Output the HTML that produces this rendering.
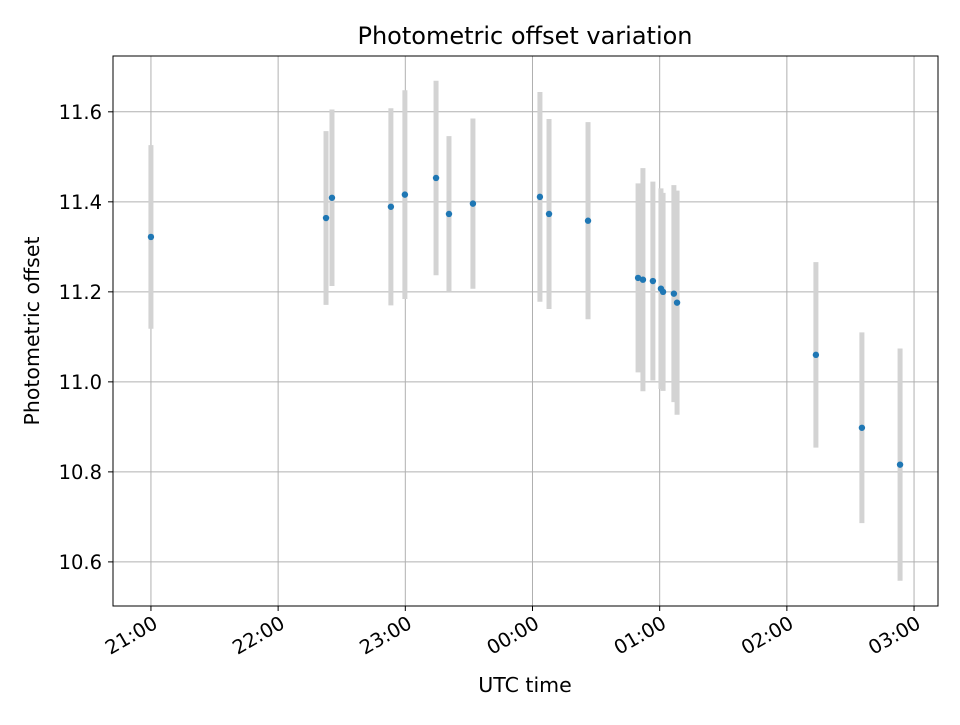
<!DOCTYPE html>
<html><head><meta charset="utf-8"><style>
html,body{margin:0;padding:0;background:#fff;}
svg text{font-family:"DejaVu Sans","Liberation Sans",sans-serif;fill:#000;}
</style></head><body>
<svg id="chart" width="960" height="720" xmlns="http://www.w3.org/2000/svg">
<rect width="960" height="720" fill="#fff"/>
<g id="grid"></g>
<g id="bars"></g>
<g id="pts"></g>
<rect x="113" y="56" width="825" height="550" fill="none" stroke="#000" stroke-width="1"/>
<g id="ticks"></g>
<text x="525" y="44" font-size="24" text-anchor="middle">Photometric offset variation</text>
<text x="525" y="692" font-size="20.5" text-anchor="middle">UTC time</text>
<text transform="translate(39,331) rotate(-90)" font-size="20.5" text-anchor="middle">Photometric offset</text>
</svg>
<script>
// minutes after 21:00 UTC
const times=[0,82.6,85.4,113.2,119.8,134.5,140.6,151.9,183.5,187.8,206.2,229.8,232.1,236.8,240.6,241.6,246.7,248.2,313.7,335.4,353.4];
const offsets=[11.322,11.364,11.409,11.389,11.416,11.453,11.373,11.396,11.411,11.373,11.358,11.231,11.227,11.224,11.207,11.2,11.196,11.176,11.06,10.898,10.816];
const errors=[0.204,0.193,0.196,0.219,0.232,0.216,0.173,0.189,0.233,0.211,0.219,0.21,0.248,0.221,0.223,0.22,0.241,0.249,0.206,0.212,0.258];
const xTickLabels=["21:00","22:00","23:00","00:00","01:00","02:00","03:00"];
const xTickMinutes=[0,60,120,180,240,300,360];
const yTicks=[10.6,10.8,11.0,11.2,11.4,11.6];

const NS="http://www.w3.org/2000/svg";
const L=113,R=938,T=56,B=606;
const xMin=-17.9,xMax=371.3,yMin=10.502,yMax=11.724;
const X=m=>L+(m-xMin)/(xMax-xMin)*(R-L);
const Y=v=>B-(v-yMin)/(yMax-yMin)*(B-T);
function mk(tag,attrs,parent){const e=document.createElementNS(NS,tag);for(const k in attrs)e.setAttribute(k,attrs[k]);parent.appendChild(e);return e;}
const grid=document.getElementById('grid'),ticks=document.getElementById('ticks'),bars=document.getElementById('bars'),pts=document.getElementById('pts');
xTickMinutes.forEach((m,i)=>{
  const x=X(m);
  const g=mk('line',{x1:x,x2:x,y1:T,y2:B,stroke:'#b0b0b0','stroke-width':1},grid);
  
  
  const t=mk('line',{x1:x,x2:x,y1:B,y2:B+5,stroke:'#000'},ticks);
  
  
  const lb=mk('text',{x:0,y:0,'font-size':19.5,'text-anchor':'end',transform:`translate(${x+8},${B+21}) rotate(-30)`},ticks);
  lb.textContent=xTickLabels[i];
  
  
});
yTicks.forEach(v=>{
  const y=Y(v);
  const g=mk('line',{x1:L,x2:R,y1:y,y2:y,stroke:'#b0b0b0','stroke-width':1},grid);
  
  
  const t=mk('line',{x1:L-5,x2:L,y1:y,y2:y,stroke:'#000'},ticks);
  
  
  const lb=mk('text',{x:L-11,y:y+7,'font-size':19.5,'text-anchor':'end'},ticks);
  lb.textContent=v.toFixed(1);
  
  
});
times.forEach((m,i)=>{
  const x=X(m);
  const b=mk('line',{x1:x,x2:x,y1:Y(offsets[i]+errors[i]),y2:Y(offsets[i]-errors[i]),stroke:'#d3d3d3','stroke-width':5},bars);
  
  
});
times.forEach((m,i)=>{
  const c=mk('circle',{cx:X(m),cy:Y(offsets[i]),r:3.2,fill:'#1f77b4'},pts);
  
  
});
</script>
</body></html>
